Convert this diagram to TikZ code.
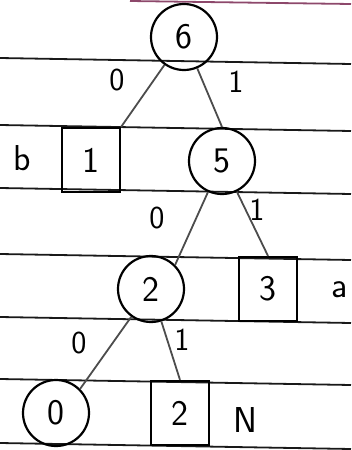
\documentclass[tikz,border=0pt]{standalone}
\usepackage{fontspec}
\begin{document}
\begin{tikzpicture}[x=1pt, y=-1pt,
  every node/.style={font=\sffamily\fontsize{36}{36}\selectfont},
  knoten/.style={draw, circle, line width=2.2pt, minimum size=66pt, inner sep=0pt},
  blatt/.style={draw, line width=2.2pt, minimum width=58pt, minimum height=64pt, inner sep=0pt},
  kante/.style={line width=1.8pt, black!70},
  bit/.style={font=\sffamily\fontsize{32}{32}\selectfont}]
  \useasboundingbox (0,0) rectangle (351,450);
  % Linienpapier
  \foreach \y in {61,128,191,257,320,382,446}{
    \draw[black!90, line width=1.8pt] (0,\y-3) -- (351,\y+3);
  }
  \draw[magenta!50!black, line width=1.8pt] (130,1) -- (351,4);
  % innere Knoten
  \node[knoten] (k6) at (184,37) {6};
  \node[knoten] (k5) at (222,161) {5};
  \node[knoten] (k2) at (151,289) {2};
  \node[knoten] (k0) at (56,413) {0};
  % Blaetter
  \node[blatt] (b1) at (91,160) {1};
  \node[blatt] (b3) at (268,289) {3};
  \node[blatt] (b2) at (180,413) {2};
  % Zeichen neben den Blaettern
  \node (zb) at (22,158) {b};
  \node (za) at (340,290) {a};
  \node (zn) at (245,420) {N};
  % Kanten
  \draw[kante] (k6) -- (b1.north east);
  \draw[kante] (k6) -- (k5.north);
  \draw[kante] (k5) -- (k2.north east);
  \draw[kante] (k5) -- (b3.north);
  \draw[kante] (k2) -- (k0.north east);
  \draw[kante] (k2) -- (b2.north);
  % Bits an den Kanten
  \node[bit] (e60) at (117,80) {0};
  \node[bit] (e61) at (236,82) {1};
  \node[bit] (e50) at (157,218) {0};
  \node[bit] (e51) at (257,210) {1};
  \node[bit] (e20) at (79,343) {0};
  \node[bit] (e21) at (182,340) {1};
\end{tikzpicture}
\end{document}
